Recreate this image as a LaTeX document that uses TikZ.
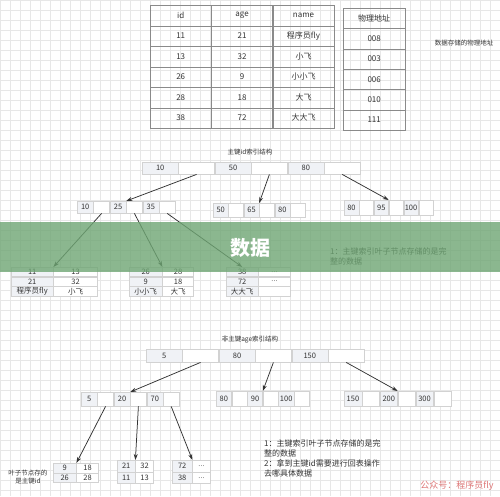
\documentclass[tikz,border=0pt]{standalone}
\usepackage{fontspec}
\setmainfont{Noto Sans CJK SC}
\usetikzlibrary{arrows.meta}
\usetikzlibrary{positioning}

\definecolor{gridline}{HTML}{E7E7E7}
\definecolor{cellline}{HTML}{D2D2D2}
\definecolor{tableline}{HTML}{8A8A8A}
\definecolor{keyfill}{HTML}{F0F2F6}
\definecolor{inktext}{HTML}{333333}
\definecolor{bandgreen}{RGB}{110,165,115}
\definecolor{markred}{RGB}{222,120,120}

\tikzset{
  tcell/.style={draw=tableline, text=inktext, minimum width=61, minimum height=20.5,
    inner sep=0, anchor=north west, font=\fontsize{8}{9}\selectfont},
  keycell/.style={draw=cellline, fill=keyfill, text=inktext, inner sep=0,
    anchor=north west, font=\fontsize{7.5}{8}\selectfont},
  ptrcell/.style={draw=cellline, fill=white, inner sep=0, anchor=north west},
  leafkey/.style={draw=cellline, fill=keyfill, text=inktext, inner sep=0,
    anchor=north west, font=\fontsize{7.5}{8}\selectfont},
  leafval/.style={leafkey, fill=white},
  link/.style={draw=black!80, line width=0.75pt, -{Stealth[length=6pt,width=4pt]}},
  note/.style={text=inktext, anchor=north west, align=left, inner sep=0,
    font=\fontsize{8}{10}\selectfont},
  caption/.style={text=inktext, inner sep=0, font=\fontsize{6.5}{8}\selectfont},
}

% one B+ tree node: key, pointer, key, pointer, key, pointer
\newcommand{\keyrow}[8]{%
  \node[keycell, minimum width=#4, minimum height=#5] (#1-1) at (#2,#3) {#6};
  \node[ptrcell, minimum width=#4, minimum height=#5] (#1-2) at (#1-1.north east) {};
  \node[keycell, minimum width=#4, minimum height=#5] (#1-3) at (#1-2.north east) {#7};
  \node[ptrcell, minimum width=#4, minimum height=#5] (#1-4) at (#1-3.north east) {};
  \node[keycell, minimum width=#4, minimum height=#5] (#1-5) at (#1-4.north east) {#8};
  \node[ptrcell, minimum width=#4, minimum height=#5] (#1-6) at (#1-5.north east) {};
}
% one row of a leaf: name, corner, widths, height, texts
\newcommand{\leafrow}[7]{%
  \node[leafkey, minimum width=#3, minimum height=#5] (#1-a) at (#2) {#6};
  \node[leafval, minimum width=#4, minimum height=#5] (#1-b) at (#1-a.north east) {#7};
}

\begin{document}
\begin{tikzpicture}[x=1pt, y=-1pt]
\useasboundingbox (0,0) rectangle (500,496);
\fill[white] (0,0) rectangle (500,496);

% background grid
\foreach \g in {0,10,...,500} \draw[gridline] (\g,0) -- (\g,496);
\foreach \g in {0,10,...,490} \draw[gridline] (0,\g) -- (500,\g);

% data table
\foreach \a/\b/\c [count=\i from 0] in {id/age/name, 11/21/程序员fly, 13/32/小飞,
    26/9/小小飞, 28/18/大飞, 38/72/大大飞} {
  \node[tcell] (tab-\i-1) at (150,{5+20.5*\i}) {\a};
  \node[tcell] (tab-\i-2) at (tab-\i-1.north east) {\b};
  \node[tcell] (tab-\i-3) at (tab-\i-2.north east) {\c};
}
\foreach \v [count=\i from 0] in {物理地址,008,003,006,010,111}
  \node[tcell, minimum width=62, minimum height=20.33] (addr-\i) at (343,{8+20.33*\i}) {\v};
\node[caption] (addrnote) at (464,43) {数据存储的物理地址};

% primary key (id) index
\node[caption] (pktitle) at (250,152) {主键id索引结构};
\keyrow{pk}{142}{162}{36}{12}{10}{50}{80}
\keyrow{pkA}{77}{201}{16}{12}{10}{25}{35}
\keyrow{pkB}{213}{203}{15}{14}{50}{65}{80}
\keyrow{pkC}{344}{200}{14.5}{14.5}{80}{95}{100}

\draw[link] (pk-2.south) -- (pkA-3.north east);
\draw[link] (pk-4.south) -- (pkB-3.north east);
\draw[link] (pk-6.south) -- (pkC-3.north east);

\leafrow{pkL1}{11,267}{42}{44}{9.3}{11}{13}
\leafrow{pkL2}{pkL1-a.south west}{42}{44}{9.3}{21}{32}
\leafrow{pkL3}{pkL2-a.south west}{42}{44}{9.3}{程序员fly}{小飞}
\leafrow{pkM1}{129,267}{33}{31}{9.3}{26}{28}
\leafrow{pkM2}{pkM1-a.south west}{33}{31}{9.3}{9}{18}
\leafrow{pkM3}{pkM2-a.south west}{33}{31}{9.3}{小小飞}{大飞}
\leafrow{pkR1}{226,267}{32}{32}{9.3}{38}{\textcolor{gray}{...}}
\leafrow{pkR2}{pkR1-a.south west}{32}{32}{9.3}{72}{\textcolor{gray}{...}}
\leafrow{pkR3}{pkR2-a.south west}{32}{32}{9.3}{大大飞}{}

\draw[link] (pkA-2.south) -- (pkL1-a.north east);
\draw[link] (pkA-4.south) -- (pkM1-a.north east);
\draw[link] (pkA-6.south) -- (pkR1-a.north);

\node[note] (pknote) at (330,248) {1：主键索引叶子节点存储的是完\\整的数据};

% banner
\fill[bandgreen, opacity=0.8] (0,222) rectangle (500,272);
\node[text=white, inner sep=0, font=\fontsize{20}{20}\selectfont\bfseries] (band) at (250,248) {数据};

% secondary key (age) index
\node[caption] (agetitle) at (250,340) {非主键age索引结构};
\keyrow{ak}{146}{349}{36}{13}{5}{80}{150}
\keyrow{akA}{81}{392}{16}{14}{5}{20}{70}
\keyrow{akB}{216}{391}{15.2}{15}{80}{90}{100}
\keyrow{akC}{344}{391}{17.5}{15}{150}{200}{300}

\draw[link] (ak-2.south) -- (akA-3.north east);
\draw[link] (ak-4.south) -- (akB-3.north east);
\draw[link] (ak-6.south) -- (akC-3.north east);

\leafrow{akL1}{53,463}{23}{22}{9.5}{9}{18}
\leafrow{akL2}{akL1-a.south west}{23}{22}{9.5}{26}{28}
\leafrow{akM1}{117,460}{18}{18}{11.5}{21}{32}
\leafrow{akM2}{akM1-a.south west}{18}{18}{11.5}{11}{13}
\leafrow{akR1}{172,460}{20}{18}{11.5}{72}{\textcolor{gray}{...}}
\leafrow{akR2}{akR1-a.south west}{20}{18}{11.5}{38}{\textcolor{gray}{...}}

\draw[link] (akA-2.south) -- (akL1-a.north east);
\draw[link] (akA-4.south) -- (akM1-a.north east);
\draw[link] (akA-6.south) -- (akR1-a.north east);

\node[caption, align=center] (leafnote) at (28,477) {叶子节点存的\\是主键id};
\node[note] (agenote) at (264,439)
  {1：主键索引叶子节点存储的是完\\整的数据\\2：拿到主键id需要进行回表操作\\去哪具体数据};

\node[text=markred, inner sep=0, font=\fontsize{9}{9}\selectfont] (mark) at (457,486) {公众号：程序员fly};
\end{tikzpicture}
\end{document}
